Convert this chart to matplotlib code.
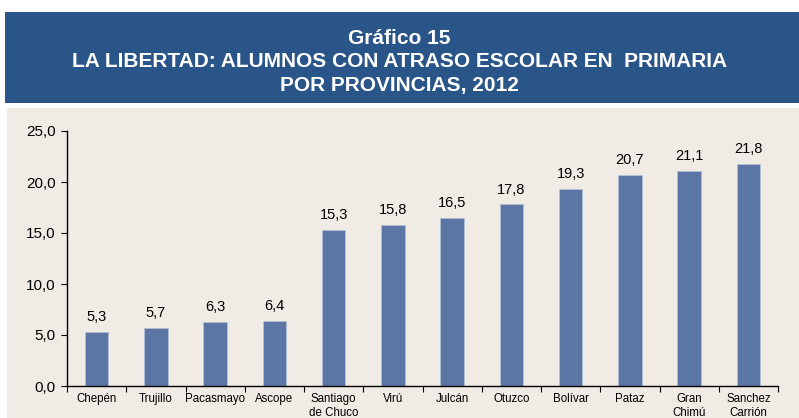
import numpy as np
import matplotlib.pyplot as plt
from matplotlib.patches import Rectangle

provincias = ['Chepén', 'Trujillo', 'Pacasmayo', 'Ascope', 'Santiago\nde Chuco', 'Virú',
              'Julcán', 'Otuzco', 'Bolívar', 'Pataz', 'Gran\nChimú', 'Sanchez\nCarrión']
valores = [5.3, 5.7, 6.3, 6.4, 15.3, 15.8, 16.5, 17.8, 19.3, 20.7, 21.1, 21.8]
yticks = [0, 5, 10, 15, 20, 25]

plt.rcParams['font.family'] = ['Liberation Sans', 'DejaVu Sans']

fig = plt.figure(figsize=(7.99, 4.18), dpi=100)
fig.patch.set_facecolor('white')

# header band and background panel
fig.patches.append(Rectangle((5/799, 1-103/418), 794/799, 91/418, transform=fig.transFigure,
                             facecolor='#2a5589', edgecolor='none', zorder=-5))
fig.patches.append(Rectangle((7/799, 0), 792/799, 1-108/418, transform=fig.transFigure,
                             facecolor='#f0ebe5', edgecolor='none', zorder=-5))

titulo = ['Gráfico 15', 'LA LIBERTAD: ALUMNOS CON ATRASO ESCOLAR EN  PRIMARIA', 'POR PROVINCIAS, 2012']
for i, t in enumerate(titulo):
    fig.text(0.5, 1 - (38 + 23.5*i)/418, t, ha='center', va='center', color='white',
             fontsize=15, fontweight='bold')

ax = fig.add_axes([67/799, 1-386/418, 711/799, 255/418])
ax.set_zorder(2)
ax.set_facecolor('none')
x = np.arange(len(provincias))
bars = ax.bar(x, valores, width=0.4, color='#5b76a5', edgecolor='#b4c0d6', linewidth=0.6, zorder=2)
for xi, v in zip(x, valores):
    ax.text(xi, v + 0.75, f'{v:.1f}'.replace('.', ','), ha='center', va='bottom', fontsize=10.5)

ax.set_xlim(-0.5, len(provincias) - 0.5)
ax.set_ylim(0, 25)
ax.set_yticks(yticks)
ax.set_yticklabels([f'{t:.1f}'.replace('.', ',') for t in yticks], fontsize=11)
ax.set_xticks(np.arange(-0.5, len(provincias)), minor=False)
ax.set_xticklabels([])
ax.set_xticks(x, minor=True)
ax.set_xticklabels(provincias, minor=True, fontsize=8.3, linespacing=1.2)
ax.tick_params(axis='x', which='minor', length=0, pad=5)
ax.tick_params(axis='x', which='major', length=4, direction='out')
ax.tick_params(axis='y', length=4, direction='out', pad=4)
for s in ['top', 'right']:
    ax.spines[s].set_visible(False)
ax.spines['left'].set_linewidth(1)
ax.spines['bottom'].set_linewidth(1)

fig.savefig('out.png', dpi=100)
